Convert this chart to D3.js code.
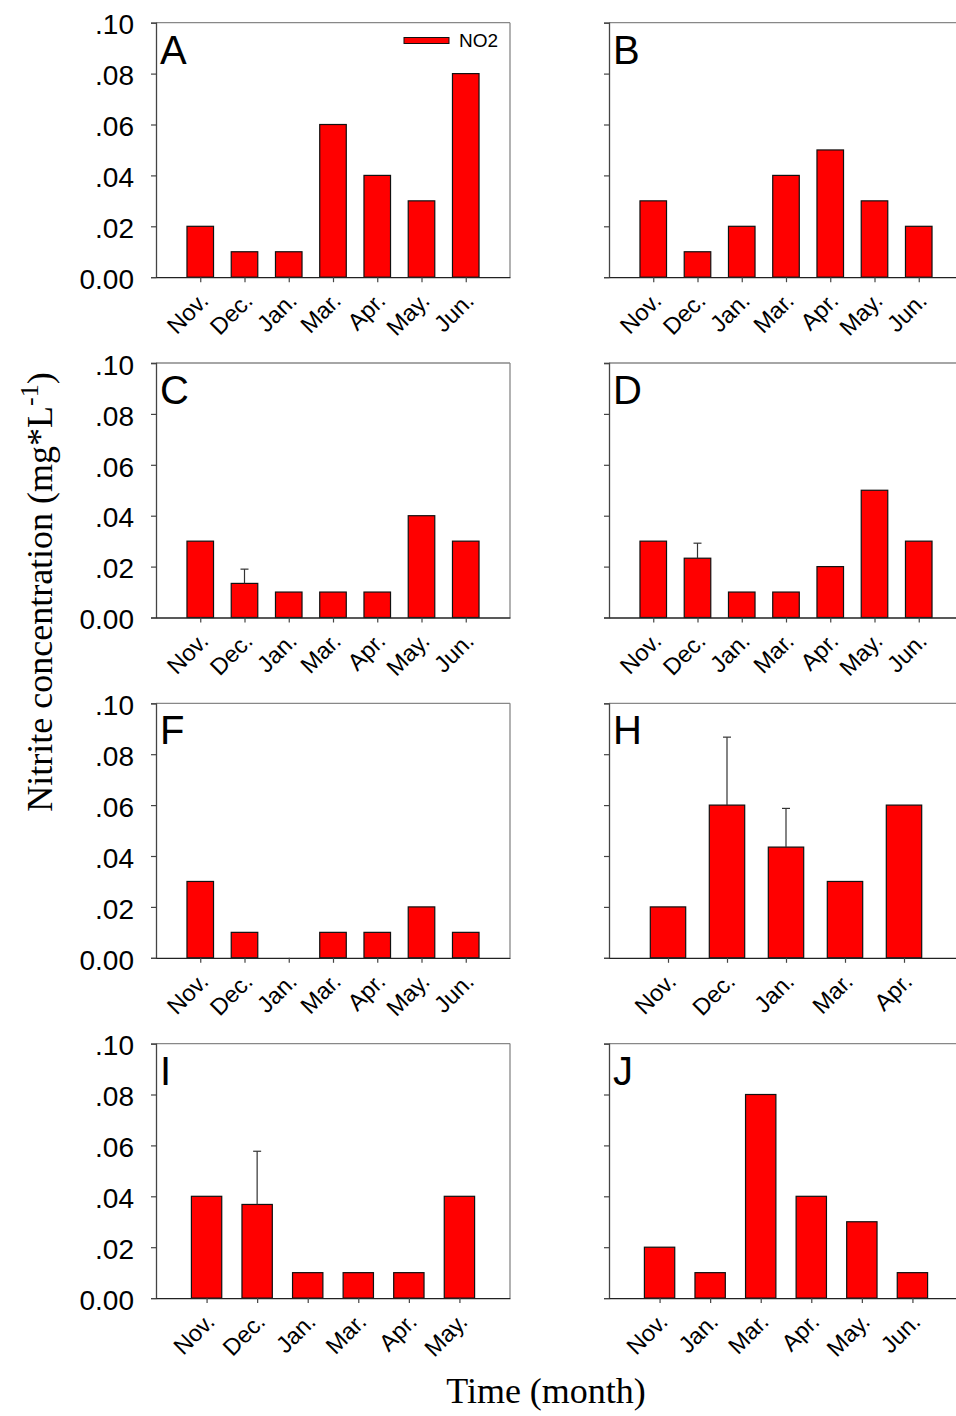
<!DOCTYPE html>
<html>
<head>
<meta charset="utf-8">
<script src="https://cdn.jsdelivr.net/npm/d3@7"></script>
<style>
  html, body { margin: 0; padding: 0; background: #fff; }
  svg { display: block; }
</style>
</head>
<body>
<svg id="grafico" width="956" height="1416"></svg>
<script>
// meses de cada painel
const meses7 = ["Nov.", "Dec.", "Jan.", "Mar.", "Apr.", "May.", "Jun."];
const mesesH = ["Nov.", "Dec.", "Jan.", "Mar.", "Apr."];
const mesesI = ["Nov.", "Dec.", "Jan.", "Mar.", "Apr.", "May."];
const mesesJ = ["Nov.", "Jan.", "Mar.", "Apr.", "May.", "Jun."];

// NO2 (mg/L)
const valoresA = [0.02, 0.01, 0.01, 0.06, 0.04, 0.03, 0.08];
const valoresB = [0.03, 0.01, 0.02, 0.04, 0.05, 0.03, 0.02];
const valoresC = [0.03, 0.0134, 0.01, 0.01, 0.01, 0.04, 0.03];
const valoresD = [0.03, 0.0233, 0.01, 0.01, 0.02, 0.05, 0.03];
const valoresF = [0.03, 0.01, 0, 0.01, 0.01, 0.02, 0.01];
const valoresH = [0.02, 0.06, 0.0435, 0.03, 0.06];
const valoresI = [0.04, 0.0368, 0.01, 0.01, 0.01, 0.04];
const valoresJ = [0.02, 0.01, 0.08, 0.04, 0.03, 0.01];

// topo das barras de erro (null = sem barra)
const erroC = [null, 0.019, null, null, null, null, null];
const erroD = [null, 0.0292, null, null, null, null, null];
const erroH = [null, 0.0867, 0.0587, null, null];
const erroI = [null, 0.0577, null, null, null, null];

const yTicks = [0, 0.02, 0.04, 0.06, 0.08, 0.10];
const yTickLabels = ["0.00", ".02", ".04", ".06", ".08", ".10"];

const paineis = [
    { letra: "A", meses: meses7, v: valoresA, e: null,  col: 0, lin: 0, legenda: true },
    { letra: "B", meses: meses7, v: valoresB, e: null,  col: 1, lin: 0 },
    { letra: "C", meses: meses7, v: valoresC, e: erroC, col: 0, lin: 1 },
    { letra: "D", meses: meses7, v: valoresD, e: erroD, col: 1, lin: 1 },
    { letra: "F", meses: meses7, v: valoresF, e: null,  col: 0, lin: 2 },
    { letra: "H", meses: mesesH, v: valoresH, e: erroH, col: 1, lin: 2 },
    { letra: "I", meses: mesesI, v: valoresI, e: erroI, col: 0, lin: 3 },
    { letra: "J", meses: mesesJ, v: valoresJ, e: null,  col: 1, lin: 3 },
];

const colX = [156, 609];
const linY = [22.7, 363, 703.3, 1043.6];
const larg = 354, alt = 254.5;

const svg = d3.select("#grafico");
const sans = "Arial, 'Liberation Sans', sans-serif";
const serif = "'Times New Roman', 'Liberation Serif', serif";

paineis.forEach(p => {
    const x0 = colX[p.col], y0 = linY[p.lin];
    const n = p.meses.length;
    const x = d3.scaleLinear().domain([0, n + 1]).range([x0, x0 + larg]);
    const y = d3.scaleLinear().domain([0, 0.1]).range([y0 + alt, y0]);
    const passo = x(1) - x(0);
    const bw = passo * 0.6;

    const g = svg.append("g");

    // moldura superior / direita
    g.append("line").attr("x1", x0).attr("x2", x0 + larg).attr("y1", y0).attr("y2", y0)
        .attr("stroke", "#888").attr("stroke-width", 1.3);
    g.append("line").attr("x1", x0 + larg).attr("x2", x0 + larg).attr("y1", y0).attr("y2", y0 + alt)
        .attr("stroke", "#888").attr("stroke-width", 1.3);

    // barras
    g.selectAll("rect.barra")
        .data(p.v)
        .join("rect")
        .attr("class", "barra")
        .attr("x", (d, i) => x(i + 1) - bw / 2)
        .attr("width", bw)
        .attr("y", d => y(d))
        .attr("height", d => y(0) - y(d))
        .attr("fill", "#ff0000")
        .attr("stroke", d => d > 0 ? "#111" : "none")
        .attr("stroke-width", 1.2);

    // barras de erro
    if (p.e) {
        const erros = p.e.map((t, i) => ({ t, i })).filter(d => d.t != null);
        g.selectAll("line.erro")
            .data(erros)
            .join("line")
            .attr("class", "erro")
            .attr("x1", d => x(d.i + 1)).attr("x2", d => x(d.i + 1))
            .attr("y1", d => y(p.v[d.i])).attr("y2", d => y(d.t))
            .attr("stroke", "#333").attr("stroke-width", 1.2);
        g.selectAll("line.tampa")
            .data(erros)
            .join("line")
            .attr("class", "tampa")
            .attr("x1", d => x(d.i + 1) - 4).attr("x2", d => x(d.i + 1) + 4)
            .attr("y1", d => y(d.t)).attr("y2", d => y(d.t))
            .attr("stroke", "#333").attr("stroke-width", 1.2);
    }

    // eixo y
    const eixoY = d3.axisLeft(y)
        .tickValues(yTicks)
        .tickSize(5)
        .tickPadding(17)
        .tickFormat((d, i) => p.col === 0 ? yTickLabels[i] : "");
    const gy = g.append("g").attr("transform", `translate(${x0},0)`).call(eixoY);
    gy.select(".domain").attr("stroke", "#444").attr("stroke-width", 1.3);
    gy.selectAll(".tick line").attr("stroke", "#444").attr("stroke-width", 1.2);
    gy.selectAll(".tick text")
        .attr("font-family", sans).attr("font-size", 28).attr("fill", "#000")
        .attr("dy", "0.4em");

    // eixo x
    const eixoX = d3.axisBottom(x)
        .tickValues(d3.range(1, n + 1))
        .tickSize(5)
        .tickSizeOuter(0)
        .tickFormat(i => p.meses[i - 1]);
    const gx = g.append("g").attr("transform", `translate(0,${y0 + alt})`).call(eixoX);
    gx.select(".domain").attr("stroke", "#222").attr("stroke-width", 1.3);
    gx.selectAll(".tick line").attr("stroke", "#444").attr("stroke-width", 1.2);
    gx.selectAll(".tick text")
        .attr("font-family", sans).attr("font-size", 23.5).attr("fill", "#000")
        .attr("text-anchor", "end")
        .attr("y", 0).attr("dy", 0)
        .attr("transform", "translate(9,25) rotate(-45)");

    // letra do painel
    g.append("text")
        .attr("x", x0 + 4).attr("y", y0 + 41)
        .attr("font-family", sans).attr("font-size", 40)
        .text(p.letra);

    // legenda
    if (p.legenda) {
        g.append("rect")
            .attr("x", 404).attr("y", 37.5).attr("width", 45).attr("height", 6)
            .attr("fill", "#ff0000").attr("stroke", "#111").attr("stroke-width", 1);
        g.append("text")
            .attr("x", 459).attr("y", 47)
            .attr("font-family", sans).attr("font-size", 19)
            .text("NO2");
    }
});

// títulos dos eixos
const tituloY = svg.append("text")
    .attr("transform", "translate(52,592) rotate(-90)")
    .attr("text-anchor", "middle")
    .attr("font-family", serif).attr("font-size", 36);
tituloY.append("tspan").text("Nitrite concentration (mg*L");
tituloY.append("tspan").attr("dy", "-0.55em").attr("font-size", 26).text("-1");
tituloY.append("tspan").attr("dy", "0.4em").text(")");

svg.append("text")
    .attr("x", 546).attr("y", 1403)
    .attr("text-anchor", "middle")
    .attr("font-family", serif).attr("font-size", 36)
    .text("Time (month)");
</script>
</body>
</html>
